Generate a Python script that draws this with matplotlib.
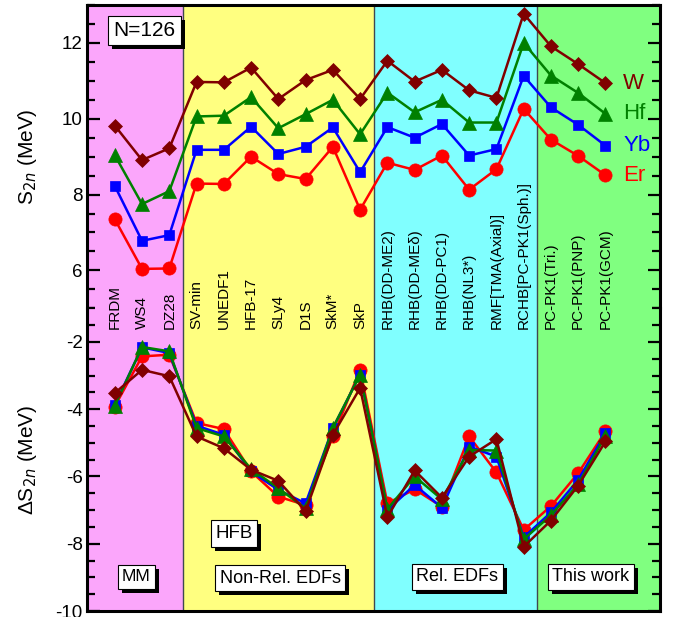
import matplotlib
matplotlib.use("Agg")
import matplotlib.pyplot as plt
from matplotlib.ticker import MultipleLocator, NullLocator
from matplotlib.patches import Rectangle

plt.rcParams['font.family'] = ['Liberation Sans', 'DejaVu Sans']
plt.rcParams['axes.unicode_minus'] = False

models = ["FRDM", "WS4", "DZ28", "SV-min", "UNEDF1", "HFB-17", "SLy4", "D1S",
          "SkM*", "SkP", "RHB(DD-ME2)", "RHB(DD-ME\u03b4)", "RHB(DD-PC1)",
          "RHB(NL3*)", "RMF[TMA(Axial)]", "RCHB[PC-PK1(Sph.)]",
          "PC-PK1(Tri.)", "PC-PK1(PNP)", "PC-PK1(GCM)"]

# Two-neutron separation energies at N=126 (MeV)
s2n_W  = [9.82, 8.91, 9.22, 10.97, 10.96, 11.35, 10.52, 11.02, 11.29, 10.52,
          11.53, 10.98, 11.29, 10.75, 10.55, 12.77, 11.91, 11.44, 10.94]
s2n_Hf = [9.04, 7.75, 8.09, 10.06, 10.08, 10.57, 9.75, 10.12, 10.50, 9.59,
          10.69, 10.17, 10.50, 9.90, 9.90, 12.00, 11.14, 10.68, 10.13]
s2n_Yb = [8.23, 6.78, 6.93, 9.18, 9.18, 9.79, 9.07, 9.26, 9.77, 8.59,
          9.78, 9.50, 9.86, 9.03, 9.20, 11.13, 10.30, 9.84, 9.29]
s2n_Er = [7.35, 6.04, 6.05, 8.29, 8.28, 9.00, 8.54, 8.41, 9.26, 7.60,
          8.84, 8.65, 9.03, 8.13, 8.67, 10.26, 9.45, 9.02, 8.51]

# Shell gap Delta S2n (MeV)
ds2n_W  = [-3.52, -2.83, -3.02, -4.81, -5.16, -5.80, -6.13, -7.03, -4.76, -3.37,
           -7.21, -5.82, -6.63, -5.41, -4.89, -8.09, -7.31, -6.27, -4.96]
ds2n_Hf = [-3.90, -2.15, -2.28, -4.56, -4.81, -5.78, -6.35, -6.95, -4.56, -2.97,
           -6.97, -6.00, -6.68, -5.21, -5.23, -7.87, -7.15, -6.23, -4.79]
ds2n_Yb = [-3.87, -2.16, -2.33, -4.49, -4.76, -5.85, -6.40, -6.80, -4.56, -2.97,
           -7.00, -6.25, -6.93, -5.11, -5.41, -7.81, -7.07, -6.10, -4.71]
ds2n_Er = [-3.92, -2.43, -2.38, -4.41, -4.59, -5.85, -6.60, -6.85, -4.81, -2.83,
           -6.80, -6.38, -6.90, -4.81, -5.88, -7.59, -6.88, -5.90, -4.66]

groups = ["MM", "Non-Rel. EDFs", "Rel. EDFs", "This work"]
group_edges = [-1, 2.5, 9.5, 15.5, 20]
group_colors = ["#FBA6FB", "#FFFF80", "#80FFFF", "#80FF80"]

x = list(range(len(models)))

fig = plt.figure(figsize=(6.78, 6.17), dpi=100)
L, R = 87.5 / 678, 660 / 678
ytop, ymid, ybot = 1 - 5 / 617, 1 - 308.3 / 617, 1 - 611 / 617
ax1 = fig.add_axes([L, ymid, R - L, ytop - ymid])
ax2 = fig.add_axes([L, ybot, R - L, ymid - ybot])

series = [("Er", "#FF0000", "o", 9.5),
          ("Yb", "#0000FF", "s", 7.5),
          ("Hf", "#008000", "^", 9.5),
          ("W", "#800000", "D", 7.2)]
top_data = {"W": s2n_W, "Hf": s2n_Hf, "Yb": s2n_Yb, "Er": s2n_Er}
bot_data = {"W": ds2n_W, "Hf": ds2n_Hf, "Yb": ds2n_Yb, "Er": ds2n_Er}

for ax in (ax1, ax2):
    for i in range(len(groups)):
        ax.axvspan(group_edges[i], group_edges[i + 1], color=group_colors[i],
                   lw=0, zorder=0)
    for e in group_edges[1:-1]:
        ax.axvline(e, color="#404850", lw=1.0, zorder=1)
    ax.set_xlim(-1, 20)
    ax.xaxis.set_major_locator(NullLocator())
    for sp in ax.spines.values():
        sp.set_linewidth(2.2)
    ax.tick_params(axis="y", which="both", direction="in", left=True, right=True,
                   labelsize=13.5, width=1.6)
    ax.tick_params(axis="y", which="major", length=9)
    ax.tick_params(axis="y", which="minor", length=5.5)

ax1.spines["bottom"].set_visible(False)
ax2.spines["top"].set_visible(False)

for name, col, mk, ms in series:
    ax1.plot(x, top_data[name], color=col, marker=mk, ms=ms, mew=0.5, lw=1.8,
             zorder=3)
    ax2.plot(x, bot_data[name], color=col, marker=mk, ms=ms, mew=0.5, lw=1.8,
             zorder=3)

ax1.set_ylim(5, 13)
ax1.yaxis.set_minor_locator(MultipleLocator(0.5))
ax1.set_yticks([6, 8, 10, 12])
ax2.set_ylim(-10, -1)
ax2.yaxis.set_minor_locator(MultipleLocator(0.5))
ax2.set_yticks([-10, -8, -6, -4, -2])

ax1.set_ylabel("S$_{2n}$ (MeV)", fontsize=15)
ax2.set_ylabel("\u0394S$_{2n}$ (MeV)", fontsize=15)
ax1.yaxis.set_label_coords(-0.085, 0.5)
ax2.yaxis.set_label_coords(-0.085, 0.5)

# element labels at the right end of the S2n curves
for name, col, _, _ in series:
    ax1.text(18.65, top_data[name][-1], name, color=col, fontsize=16,
             ha="left", va="center", zorder=4)

# model names, vertical
for xi, m in zip(x, models):
    ax2.text(xi, -1.63, m, rotation=90, ha="center", va="bottom",
             fontsize=11, zorder=4, clip_on=False)

# boxed captions with a drop shadow
boxes = [(ax1, 1.1, 12.33, "N=126", 15),
         (ax2, 4.37, -7.70, "HFB", 13.5),
         (ax2, 0.79, -8.98, groups[0], 12.5),
         (ax2, 6.07, -9.02, groups[1], 13),
         (ax2, 12.56, -8.98, groups[2], 13),
         (ax2, 17.46, -8.98, groups[3], 13)]
texts = []
for ax, xx, yy, s, fs in boxes:
    t = ax.text(xx, yy, s, fontsize=fs, ha="center", va="center", zorder=6,
                bbox=dict(boxstyle="square,pad=0.25", fc="white", ec="black",
                          lw=0.8))
    texts.append(t)

fig.canvas.draw()
for t in texts:
    bb = t.get_bbox_patch().get_window_extent()
    fig.patches.append(Rectangle((bb.x0 + 4, bb.y0 - 4), bb.width, bb.height,
                                 transform=None, fc="black", ec="none",
                                 zorder=5, figure=fig))

# keep the shadows behind the captions but above the axes
for t in texts:
    t.set_zorder(7)
    t.remove()
    fig.texts.append(t)
    t.set_figure(fig)

fig.savefig("out.png", dpi=100)
